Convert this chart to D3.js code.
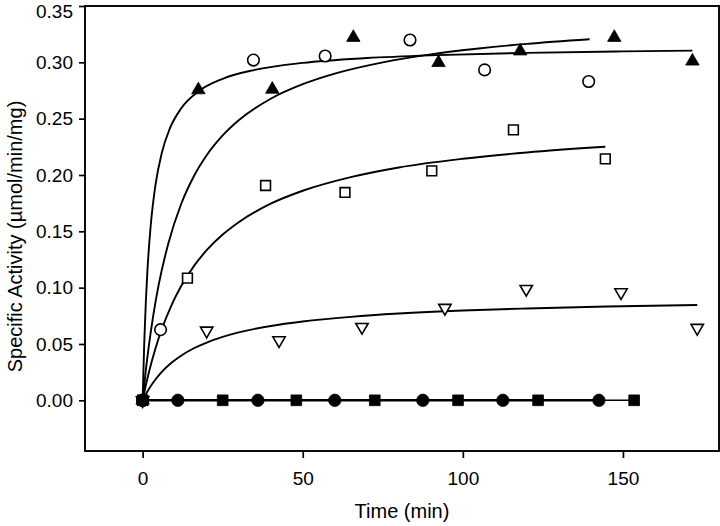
<!DOCTYPE html>
<html><head><meta charset="utf-8">
<script src="https://cdn.jsdelivr.net/npm/d3@7"></script>
<style>
html,body{margin:0;padding:0;background:#fff;}
svg{display:block;font-family:"Liberation Sans",Arial,Helvetica,sans-serif;}
</style></head>
<body>
<svg id="chart" width="720" height="526"></svg>
<script>
// ---- data ----
const xTicks = [0, 50, 100, 150];
const yTicks = [0, 0.05, 0.10, 0.15, 0.20, 0.25, 0.30, 0.35];

// open circles
const circT = [0, 5.6, 34.6, 57, 83.5, 106.8, 139.3];
const circV = [0, 0.0627, 0.302, 0.3056, 0.3198, 0.2933, 0.283];
// filled triangles
const triT = [0, 17.4, 40.5, 65.8, 92.4, 117.9, 147.3, 171.7];
const triV = [0, 0.2755, 0.276, 0.322, 0.2997, 0.310, 0.322, 0.301];
// open squares
const sqT = [0, 14, 38.4, 63.2, 90.3, 115.8, 144.5];
const sqV = [0, 0.1085, 0.1907, 0.1845, 0.2037, 0.240, 0.2143];
// open down-triangles
const dtriT = [0, 20, 42.6, 68.5, 94.4, 119.8, 149.4, 173.2];
const dtriV = [0, 0.0618, 0.0532, 0.065, 0.082, 0.0988, 0.0958, 0.0642];
// filled circles (zero activity)
const fcircT = [0, 11, 36, 60, 87.5, 112.5, 142.5];
const fcircV = [0, 0, 0, 0, 0, 0, 0];
// filled squares (zero activity)
const fsqT = [0, 25, 48, 72.5, 98.5, 123.5, 153.5];
const fsqV = [0, 0, 0, 0, 0, 0, 0];

// fitted curves
const fitAT = [0, 0.5, 1, 1.5, 2.5, 4, 6, 8.5, 12, 17.4, 25, 35, 50, 70, 92, 120, 150, 171.7];
const fitAV = [0, 0.0508, 0.0875, 0.1153, 0.1545, 0.191, 0.2198, 0.2413, 0.259, 0.2741, 0.2854, 0.2933, 0.2995, 0.3038, 0.3064, 0.3084, 0.3097, 0.3104];
const fitBT = [0, 1, 2, 3.3, 5, 8, 12, 16, 20, 25, 30, 40, 50, 60, 75, 90, 105, 120, 139.6];
const fitBV = [0, 0.0268, 0.0497, 0.075, 0.1024, 0.139, 0.174, 0.1989, 0.2175, 0.2351, 0.2486, 0.2677, 0.2806, 0.29, 0.30, 0.3071, 0.3123, 0.3164, 0.3205];
const fitCT = [0, 1, 2, 4, 6, 9, 12, 16, 20, 25, 30, 40, 50, 65, 80, 100, 120, 144.5];
const fitCV = [0, 0.0133, 0.0253, 0.046, 0.0633, 0.0843, 0.1012, 0.1191, 0.1332, 0.1471, 0.1581, 0.1745, 0.186, 0.1981, 0.2067, 0.2144, 0.22, 0.225];
const fitDT = [0, 1, 2, 4, 6, 9, 12, 16, 20, 25, 30, 40, 50, 65, 80, 100, 120, 145, 173.2];
const fitDV = [0, 0.0054, 0.0103, 0.0185, 0.0252, 0.0333, 0.0396, 0.0462, 0.0513, 0.0563, 0.0603, 0.066, 0.07, 0.0741, 0.077, 0.0797, 0.0815, 0.0832, 0.0846];

// ---- layout ----
const svg = d3.select("#chart");
const L = 85, R = 719, T = 6, B = 451;
const x = d3.scaleLinear().domain([-18, 180]).range([L, R]);
const y = d3.scaleLinear().domain([-0.045, 0.35]).range([B, T]);
const zip = (a, b) => a.map((t, i) => [t, b[i]]);

// axes
const yAxis = d3.axisLeft(y).tickValues(yTicks).tickFormat(d3.format(".2f")).tickSize(6).tickPadding(6);
const xAxis = d3.axisBottom(x).tickValues(xTicks).tickFormat(d3.format("d")).tickSize(7).tickPadding(14);
const gy = svg.append("g").attr("transform", `translate(${L},0)`).call(yAxis);
const gx = svg.append("g").attr("transform", `translate(0,${B})`).call(xAxis);
[gx, gy].forEach(g => {
  g.select(".domain").remove();
  g.selectAll(".tick line").attr("stroke", "#000").attr("stroke-width", 1.7);
  g.selectAll(".tick text").attr("fill", "#000").style("font-size", "19px").style("font-family", '"Liberation Sans",Arial,sans-serif');
});
// keep the top label inside the page
gy.selectAll(".tick text").filter(d => Math.abs(d - 0.35) < 1e-9).attr("dy", "0.6em");

// frame
svg.append("rect").attr("x", L).attr("y", T).attr("width", R - L).attr("height", B - T)
  .attr("fill", "none").attr("stroke", "#000").attr("stroke-width", 1.9);

// fitted curves
const line = d3.line().x(d => x(d[0])).y(d => y(d[1])).curve(d3.curveMonotoneX);
[[fitAT, fitAV], [fitBT, fitBV], [fitCT, fitCV], [fitDT, fitDV]].forEach(([t, v]) => {
  svg.append("path").datum(zip(t, v)).attr("d", line)
    .attr("fill", "none").attr("stroke", "#000").attr("stroke-width", 1.9);
});

// zero lines
const lin = d3.line().x(d => x(d[0])).y(d => y(d[1]));
svg.append("path").datum(zip(fsqT, fsqV)).attr("d", lin).attr("fill", "none").attr("stroke", "#000").attr("stroke-width", 1.5);
svg.append("path").datum(zip(fcircT, fcircV)).attr("d", lin).attr("fill", "none").attr("stroke", "#000").attr("stroke-width", 2.6);

// markers
function marks(t, v, type, size, filled) {
  svg.append("g").selectAll("path").data(zip(t, v)).join("path")
    .attr("transform", d => `translate(${x(d[0])},${y(d[1])})${type === "down" ? " rotate(180)" : ""}`)
    .attr("d", d3.symbol().type(type === "down" || type === "tri" ? d3.symbolTriangle : type === "sq" ? d3.symbolSquare : d3.symbolCircle).size(size))
    .attr("fill", filled ? "#000" : "#fff")
    .attr("stroke", "#000").attr("stroke-width", filled ? 0.8 : 1.6);
}
marks(dtriT, dtriV, "down", 66, false);
marks(sqT, sqV, "sq", 95, false);
marks(circT, circV, "circ", 105, false);
marks(triT, triV, "tri", 78, true);
marks(fsqT, fsqV, "sq", 115, true);
marks(fcircT, fcircV, "circ", 120, true);

// titles
svg.append("text").attr("x", (L + R) / 2).attr("y", 518).attr("text-anchor", "middle")
  .style("font-size", "20px").text("Time (min)");
svg.append("text").attr("transform", `translate(22,${(T + B) / 2 + 8}) rotate(-90)`).attr("text-anchor", "middle")
  .style("font-size", "20px").text("Specific Activity (µmol/min/mg)");
</script>
</body></html>
